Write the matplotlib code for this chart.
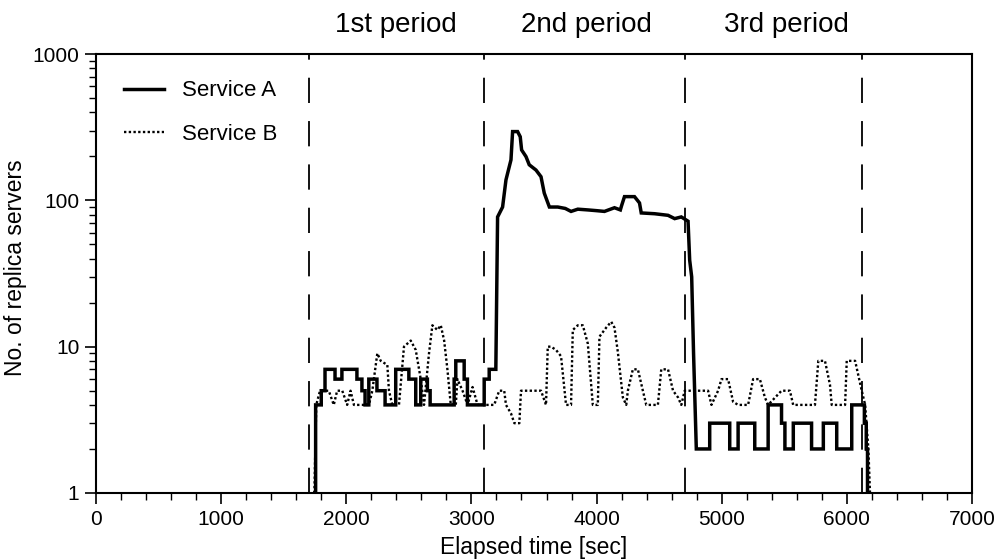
import matplotlib
matplotlib.use("Agg")
import matplotlib.pyplot as plt
from matplotlib.ticker import FixedLocator, MultipleLocator, NullFormatter
import numpy as np

plt.rcParams['font.family'] = ['Liberation Sans', 'DejaVu Sans']

# ---------------- data ----------------
# Service A, step segments (step-post: value holds until next time)
a_p1_t = [1750, 1755, 1800, 1830, 1910, 1965, 2085, 2125, 2150, 2180, 2245, 2310,
          2395, 2500, 2555, 2595, 2648, 2670, 2862, 2875, 2942, 2968, 3102, 3142, 3195]
a_p1_v = [1, 4, 5, 7, 6, 7, 6, 5, 4, 6, 5, 4,
          7, 6, 4, 6, 5, 4, 6, 8, 6, 4, 6, 7, 7]
# Service A, 2nd period (continuous curve)
a_p2_t = [3195, 3209, 3249, 3276, 3316, 3329, 3369, 3390, 3401, 3436, 3462, 3516,
          3556, 3582, 3623, 3690, 3750, 3796, 3850, 3930, 4000, 4063, 4143, 4190,
          4200, 4223, 4303, 4343, 4357, 4464, 4571, 4624, 4677, 4731, 4744, 4760,
          4775, 4797]
a_p2_v = [7, 77, 90, 138, 189, 295, 295, 272, 221, 199, 175, 161,
          145, 112, 90, 90, 88, 84, 87, 86, 85, 84, 89, 86,
          92, 106, 106, 96, 82, 81, 79, 75, 77, 72, 39, 30,
          9, 2]
# Service A, 3rd period (step-post)
a_p3_t = [4797, 4904, 5064, 5131, 5264, 5371, 5478, 5505, 5572, 5718, 5812, 5919,
          6039, 6140, 6155, 6165]
a_p3_v = [2, 3, 2, 3, 2, 4, 3, 2, 3, 2, 3, 2,
          4, 3, 2, 1]

# Service B (continuous dotted curve)
b_t = [1745, 1760, 1790, 1860, 1900, 1927, 1968, 2007, 2034, 2061, 2181, 2208,
       2248, 2275, 2328, 2341, 2368, 2421, 2461, 2515, 2555, 2595, 2621, 2661,
       2688, 2728, 2755, 2782, 2808, 2835, 2875, 2888, 2929, 2969, 3009, 3049,
       3102, 3182, 3222, 3262, 3276, 3316, 3343, 3383, 3396, 3476, 3556, 3596,
       3610, 3636, 3676, 3716, 3756, 3796, 3810, 3850, 3890, 3930, 3970, 4010,
       4023, 4077, 4117, 4143, 4170, 4210, 4237, 4250, 4290, 4330, 4370, 4397,
       4490, 4517, 4571, 4611, 4651, 4677, 4704, 4784, 4891, 4918, 4971, 4998,
       5051, 5091, 5131, 5211, 5251, 5305, 5345, 5371, 5478, 5545, 5571, 5745,
       5772, 5825, 5865, 5879, 5986, 5999, 6066, 6119, 6146, 6172, 6185]
b_v = [1, 4, 5, 5, 4, 5, 5, 4, 5, 4, 4, 5,
       9, 8, 7.5, 5, 4, 4, 10, 11, 9.5, 6, 4, 9,
       14, 13, 14, 11, 7, 4, 4, 6, 5, 4, 5.3, 4,
       4, 4, 5, 5, 4, 3.5, 3, 3, 5, 5, 5, 4,
       10, 10, 9.5, 8.6, 4, 4, 13, 14, 14, 10.5, 4, 4,
       11.7, 13.5, 14.8, 13.5, 9.2, 4.5, 4, 5, 7, 7, 5, 4,
       4, 7, 7, 5, 4.5, 4, 5, 5, 5, 4, 5, 6,
       6, 4.2, 4, 4, 6, 6, 4.5, 4, 5, 5, 4, 4,
       8, 8, 5.5, 4, 4, 8, 8, 5, 4, 2, 1]

period_bounds = [1700, 3100, 4710, 6120]
period_labels = ["1st period", "2nd period", "3rd period"]
period_label_x = [2400, 3920, 5520]

x_ticks = [0, 1000, 2000, 3000, 4000, 5000, 6000, 7000]
y_ticks = [1, 10, 100, 1000]


def step_vertices(t, v):
    xs, ys = [t[0]], [v[0]]
    for i in range(1, len(t)):
        xs += [t[i], t[i]]
        ys += [v[i - 1], v[i]]
    return xs, ys


p1x, p1y = step_vertices(a_p1_t, a_p1_v)
p3x, p3y = step_vertices(a_p3_t, a_p3_v)
a_x = p1x + a_p2_t[1:] + p3x[1:]
a_y = p1y + a_p2_v[1:] + p3y[1:]

# ---------------- figure ----------------
fig = plt.figure(figsize=(9.97, 5.60), dpi=100)
ax = fig.add_axes([96 / 997, 1 - 493 / 560, 876 / 997, (493 - 54) / 560])

for xb in period_bounds:
    ax.axvline(xb, color='black', lw=1.3, linestyle=(0, (14, 10)), zorder=1)

ax.plot(b_t, b_v, color='black', lw=1.7, linestyle=(0, (1, 1)), label='Service B', zorder=2)
ax.plot(a_x, a_y, color='black', lw=2.5, solid_joinstyle='miter', label='Service A', zorder=3)

ax.set_yscale('log')
ax.set_xlim(0, 7000)
ax.set_ylim(1, 1000)

ax.xaxis.set_major_locator(FixedLocator(x_ticks))
ax.xaxis.set_minor_locator(MultipleLocator(200))
ax.set_xticklabels([str(x) for x in x_ticks])
ax.yaxis.set_major_locator(FixedLocator(y_ticks))
ax.set_yticklabels([str(y) for y in y_ticks])
ax.yaxis.set_minor_locator(matplotlib.ticker.LogLocator(base=10, subs=np.arange(2, 10)))
ax.yaxis.set_minor_formatter(NullFormatter())

ax.tick_params(which='major', direction='out', length=8, width=1.2, labelsize=15, pad=4)
ax.tick_params(which='minor', direction='out', length=5, width=1.0)
ax.tick_params(top=False, right=False, which='both')
for s in ax.spines.values():
    s.set_linewidth(1.5)

ax.set_xlabel("Elapsed time [sec]", fontsize=16.5, labelpad=5)
ax.set_ylabel("No. of replica servers", fontsize=16.5)
ax.yaxis.set_label_coords(-0.079, 0.513)

handles, labels = ax.get_legend_handles_labels()
order = [1, 0]
leg = ax.legend([handles[i] for i in order], [labels[i] for i in order],
                loc='upper left', bbox_to_anchor=(0.032, 0.94), frameon=False,
                fontsize=16, handlelength=1.8, handletextpad=0.8, labelspacing=1.02,
                borderpad=0, borderaxespad=0)

for lbl, xl in zip(period_labels, period_label_x):
    ax.text(xl, 1.067, lbl, transform=ax.get_xaxis_transform(),
            ha='center', va='center', fontsize=20)

fig.savefig("out.png", dpi=100)
